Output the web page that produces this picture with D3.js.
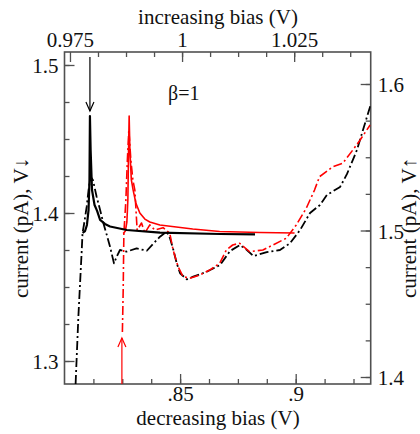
<!doctype html>
<html lang="en">
<head>
    <title>Current vs bias</title>
    <script src='https://d3js.org/d3.v7.min.js'></script>
    <style>
        body { margin: 0; background: #fff; }
        svg text { font-family: "Liberation Serif", serif; fill: #111; }
    </style>
</head>
<body>
<div id="chart"></div>
<script>
    // Theory, decreasing bias (bottom x, left y)
    var blackSolidX = [0.8078, 0.8089, 0.8097, 0.8104, 0.8108, 0.8110, 0.8113, 0.8119, 0.8130, 0.8141, 0.8154, 0.8175, 0.8197, 0.8269, 0.8413, 0.8673, 0.8824];
    var blackSolidY = [1.3865, 1.3878, 1.3919, 1.4020, 1.4223, 1.4655, 1.4426, 1.4155, 1.4054, 1.4014, 1.3953, 1.3926, 1.3909, 1.3885, 1.3868, 1.3858, 1.3855];

    // Experiment, decreasing bias (bottom x, left y)
    var blackDashX = [0.8048, 0.8060, 0.8074, 0.8078, 0.8084, 0.8096, 0.8104, 0.8113, 0.8123, 0.8139, 0.8154, 0.8168, 0.8183, 0.8197, 0.8214, 0.8227, 0.8240, 0.8269, 0.8312, 0.8356, 0.8383, 0.8413, 0.8442, 0.8456, 0.8471, 0.8485, 0.8500, 0.8529, 0.8557, 0.8615, 0.8673, 0.8716, 0.8759, 0.8789, 0.8817, 0.8875, 0.8932, 0.8975, 0.9019, 0.9062, 0.9105, 0.9135, 0.9192, 0.9222, 0.9265, 0.9291, 0.9324];
    var blackDashY = [1.2845, 1.3299, 1.3730, 1.3865, 1.3919, 1.4043, 1.4155, 1.4245, 1.4223, 1.4110, 1.4020, 1.3932, 1.3851, 1.3772, 1.3660, 1.3709, 1.3750, 1.3739, 1.3761, 1.3745, 1.3791, 1.3840, 1.3874, 1.3831, 1.3750, 1.3662, 1.3593, 1.3552, 1.3570, 1.3603, 1.3649, 1.3743, 1.3784, 1.3750, 1.3709, 1.3736, 1.3750, 1.3795, 1.3885, 1.4000, 1.4054, 1.4122, 1.4176, 1.4264, 1.4426, 1.4561, 1.4730];

    // Theory, increasing bias (top x, right y)
    var redSolidX = [0.98687, 0.98736, 0.98769, 0.98791, 0.98807, 0.98820, 0.98836, 0.98869, 0.98909, 0.98969, 0.99058, 0.99170, 0.99281, 0.99504, 1.00238, 1.00839, 1.01730, 1.02509];
    var redSolidY = [1.4980, 1.4997, 1.5058, 1.5208, 1.5549, 1.5782, 1.5549, 1.5345, 1.5276, 1.5188, 1.5119, 1.5078, 1.5058, 1.5038, 1.5010, 1.4993, 1.4986, 1.4983];

    // Experiment, increasing bias (top x, right y)
    var redDashX = [0.98669, 0.98687, 0.98702, 0.98747, 0.98780, 0.98813, 0.98858, 0.98903, 0.98947, 0.98998, 0.99096, 0.99170, 0.99281, 0.99392, 0.99577, 0.99726, 0.99800, 0.99911, 1.00022, 1.00171, 1.00394, 1.00617, 1.00839, 1.00988, 1.01129, 1.01285, 1.01507, 1.01803, 1.02026, 1.02324, 1.02547, 1.02770, 1.02954, 1.03065, 1.03361, 1.03584, 1.03807, 1.03956, 1.04194];
    var redDashY = [1.4307, 1.4594, 1.4981, 1.5208, 1.5481, 1.5686, 1.5481, 1.5345, 1.5276, 1.5003, 1.5051, 1.4983, 1.5038, 1.5003, 1.5019, 1.4981, 1.4867, 1.4753, 1.4685, 1.4674, 1.4696, 1.4730, 1.4776, 1.4867, 1.4901, 1.4913, 1.4855, 1.4867, 1.4901, 1.4947, 1.5038, 1.5152, 1.5276, 1.5367, 1.5435, 1.5459, 1.5549, 1.5611, 1.5720];

    // Tick values
    var bottomMajor = [0.85, 0.9];
    var bottomLabels = [".85", ".9"];
    var topMajor = [0.975, 1, 1.025];
    var topLabels = ["0.975", "1", "1.025"];
    var leftMajor = [1.3, 1.4, 1.5];
    var rightMajor = [1.4, 1.5, 1.6];

    // Frame
    var width = 420, height = 434;
    var mL = 64.5, mR = 370.7, mT = 52, mB = 384;

    var svg = d3.select("#chart").append("svg")
        .attr("width", width)
        .attr("height", height);

    // Scales
    var xBot = d3.scaleLinear().domain([0.8, 0.93244]).range([mL, mR]);
    var xTop = d3.scaleLinear().domain([0.97378, 1.04207]).range([mL, mR]);
    var yLeft = d3.scaleLinear().domain([1.28446, 1.50878]).range([mB, mT]);
    var yRight = d3.scaleLinear().domain([1.39522, 1.62184]).range([mB, mT]);

    function minorTicks(a, b, step) {
        var t = [];
        for (var v = a; v <= b + 1e-9; v += step) t.push(+v.toFixed(5));
        return t;
    }

    var axisColor = "#505050";

    // Axes: ticks point inward
    function drawAxis(axisFn, scale, major, labels, minors, transform) {
        var g = svg.append("g").attr("transform", transform);
        g.call(axisFn(scale).tickValues(minors).tickSize(-5).tickFormat(""));
        g.select(".domain").remove();
        var g2 = svg.append("g").attr("transform", transform);
        g2.call(axisFn(scale).tickValues(major).tickSize(-10).tickPadding(4)
            .tickFormat(function(d, i) { return labels[i]; }));
        g2.select(".domain").remove();
        [g, g2].forEach(function(s) {
            s.selectAll("line").attr("stroke", axisColor).attr("stroke-width", 1.3);
        });
        g2.selectAll("text")
            .style("font-family", "Liberation Serif, serif")
            .style("font-size", "21px")
            .attr("fill", "#111");
        return g2;
    }

    var gb = drawAxis(d3.axisBottom, xBot, bottomMajor, bottomLabels,
        minorTicks(0.8125, 0.93, 0.0125), "translate(0," + mB + ")");
    gb.selectAll("text").attr("y", 2);

    var gt = drawAxis(d3.axisTop, xTop, topMajor, topLabels,
        minorTicks(0.98125, 1.04, 0.00625), "translate(0," + mT + ")");
    gt.selectAll("text").attr("y", -5);

    var gl = drawAxis(d3.axisLeft, yLeft, leftMajor, ["1.3", "1.4", "1.5"],
        minorTicks(1.3, 1.5, 0.025), "translate(" + mL + ",0)");
    gl.selectAll("text").attr("x", -6).attr("dy", "0.36em");

    var gr = drawAxis(d3.axisRight, yRight, rightMajor, ["1.4", "1.5", "1.6"],
        minorTicks(1.4, 1.6, 0.025), "translate(" + mR + ",0)");
    gr.selectAll("text").attr("x", 7).attr("dy", "0.36em");

    // Frame rectangle
    svg.append("rect")
        .attr("x", mL).attr("y", mT)
        .attr("width", mR - mL).attr("height", mB - mT)
        .attr("fill", "none")
        .attr("stroke", axisColor)
        .attr("stroke-width", 1.6);

    // Clip for curves
    svg.append("clipPath").attr("id", "plot")
        .append("rect").attr("x", mL).attr("y", mT)
        .attr("width", mR - mL).attr("height", mB - mT);

    var plot = svg.append("g").attr("clip-path", "url(#plot)");

    function drawLine(xs, ys, sx, sy, color, widthPx, dash) {
        var pts = xs.map(function(d, i) { return [d, ys[i]]; });
        var line = d3.line()
            .x(function(d) { return sx(d[0]); })
            .y(function(d) { return sy(d[1]); });
        plot.append("path")
            .datum(pts)
            .attr("d", line)
            .attr("fill", "none")
            .attr("stroke", color)
            .attr("stroke-width", widthPx)
            .attr("stroke-linejoin", "round")
            .attr("stroke-dasharray", dash);
    }

    var dashDot = "9,3,2,3";
    drawLine(blackDashX, blackDashY, xBot, yLeft, "#000", 1.8, dashDot);
    drawLine(redDashX, redDashY, xTop, yRight, "#ff0000", 1.6, dashDot);
    drawLine(redSolidX, redSolidY, xTop, yRight, "#ff0000", 1.6, null);
    drawLine(blackSolidX, blackSolidY, xBot, yLeft, "#000", 2.2, null);

    // Arrows
    function arrow(x, y1, y2, color) {
        plot.append("line")
            .attr("x1", x).attr("x2", x).attr("y1", y1).attr("y2", y2)
            .attr("stroke", color).attr("stroke-width", 1.2);
        var dir = y2 > y1 ? -1 : 1;
        plot.append("path")
            .attr("d", "M" + (x - 4) + "," + (y2 + dir * 9) + " L" + x + "," + y2 + " L" + (x + 4) + "," + (y2 + dir * 9))
            .attr("fill", "none").attr("stroke", color).attr("stroke-width", 1.2);
    }
    arrow(xBot(0.8110), yLeft(1.5054), yLeft(1.4689), "#000");
    arrow(xTop(0.98658), yRight(1.3952), yRight(1.4266), "#ff0000");

    // Labels
    svg.append("text")
        .attr("x", 168).attr("y", 100)
        .style("font-size", "20px")
        .text("\u03b2=1");

    svg.append("text")
        .attr("x", 218).attr("y", 24)
        .attr("text-anchor", "middle")
        .style("font-size", "21px")
        .text("increasing bias (V)");

    svg.append("text")
        .attr("x", 218).attr("y", 425)
        .attr("text-anchor", "middle")
        .style("font-size", "21px")
        .text("decreasing bias (V)");

    svg.append("text")
        .attr("transform", "translate(28,228) rotate(-90)")
        .attr("text-anchor", "middle")
        .style("font-size", "21px")
        .text("current (pA), V\u2193");

    svg.append("text")
        .attr("transform", "translate(416,228) rotate(-90)")
        .attr("text-anchor", "middle")
        .style("font-size", "21px")
        .text("current (pA), V\u2191");
</script>
</body>
</html>
